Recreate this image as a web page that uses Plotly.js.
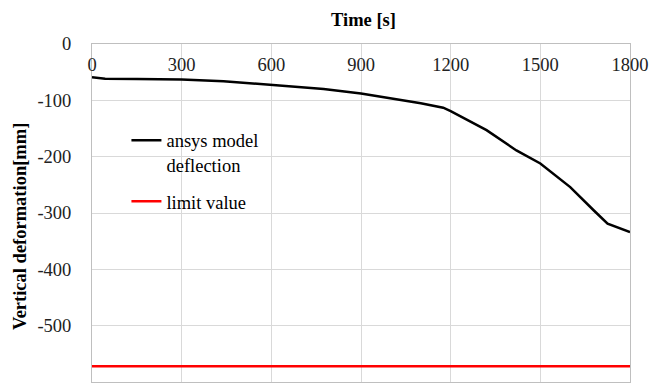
<!DOCTYPE html>
<html>
<head>
<meta charset="utf-8">
<script src="https://cdn.plot.ly/plotly-3.0.1.min.js"></script>
<style>html,body{margin:0;padding:0;background:#fff;}#chart{width:650px;height:383px;}</style>
</head>
<body>
<div id="chart"></div>
<script>
const timeS = [0, 44, 150, 300, 440, 600, 775, 900, 1000, 1100, 1175, 1200, 1320, 1420, 1500, 1600, 1680, 1725, 1800];
const deflectionMm = [-59, -61.5, -62, -63, -66, -73, -80, -88, -96, -105, -113, -119, -153, -189, -212, -254, -296, -319, -334];
const limitTime = [0, 1800];
const limitValue = [-572, -572];
const xTicks = [0, 300, 600, 900, 1200, 1500, 1800];
const yTicks = [0, -100, -200, -300, -400, -500, -600];

const font = "Liberation Serif, DejaVu Serif, serif";

const traces = [
  {x: timeS, y: deflectionMm, mode: 'lines', name: 'ansys model<br>deflection',
   line: {color: '#000000', width: 2.5}, legendgroup: 'a'},
  {x: limitTime, y: limitValue, mode: 'lines', name: 'limit value',
   line: {color: '#ff0000', width: 2.5}, legendgroup: 'b'}
];

const layout = {
  width: 650, height: 383,
  margin: {l: 92, r: 20, t: 44, b: 1, pad: 0},
  paper_bgcolor: '#ffffff', plot_bgcolor: '#ffffff',
  font: {family: font, size: 17, color: '#000000'},
  showlegend: true,
  legend: {x: 0.064, y: 0.77, xanchor: 'left', yanchor: 'top', bgcolor: 'rgba(0,0,0,0)',
           font: {family: font, size: 18.5, color: '#000'}, valign: 'top', tracegroupgap: 10,
           itemwidth: 30},
  xaxis: {
    range: [0, 1800], side: 'top', tickvals: xTicks, ticktext: xTicks.map(String),
    ticklabelposition: 'inside', ticklabeloverflow: 'allow', ticks: '', ticklabelstandoff: 15,
    showgrid: true, gridcolor: '#d9d9d9', gridwidth: 1,
    showline: true, linecolor: '#bfbfbf', linewidth: 1, mirror: true,
    zeroline: false, tickfont: {family: font, size: 18.5, color: '#222'}
  },
  yaxis: {
    range: [-600, 0], tickvals: yTicks, ticktext: yTicks.map(String),
    ticks: '', ticklabelstandoff: 16,
    showgrid: true, gridcolor: '#d9d9d9', gridwidth: 1,
    showline: true, linecolor: '#bfbfbf', linewidth: 1, mirror: true,
    zeroline: false, tickfont: {family: font, size: 18.5, color: '#222'}
  },
  annotations: [
    {text: '<b>Time [s]</b>', xref: 'paper', yref: 'paper', x: 0.5046, y: 1, yshift: 24,
     showarrow: false, xanchor: 'center', yanchor: 'middle', font: {family: font, size: 18.5, color: '#000'}},
    {text: '<b>Vertical deformation[mm]</b>', xref: 'paper', yref: 'paper', x: 0, xshift: -72.5,
     y: 0.46, showarrow: false, textangle: -90, xanchor: 'center', yanchor: 'middle',
     font: {family: font, size: 18.5, color: '#000'}}
  ]
};

Plotly.newPlot('chart', traces, layout, {displayModeBar: false, staticPlot: true});
</script>
</body>
</html>
